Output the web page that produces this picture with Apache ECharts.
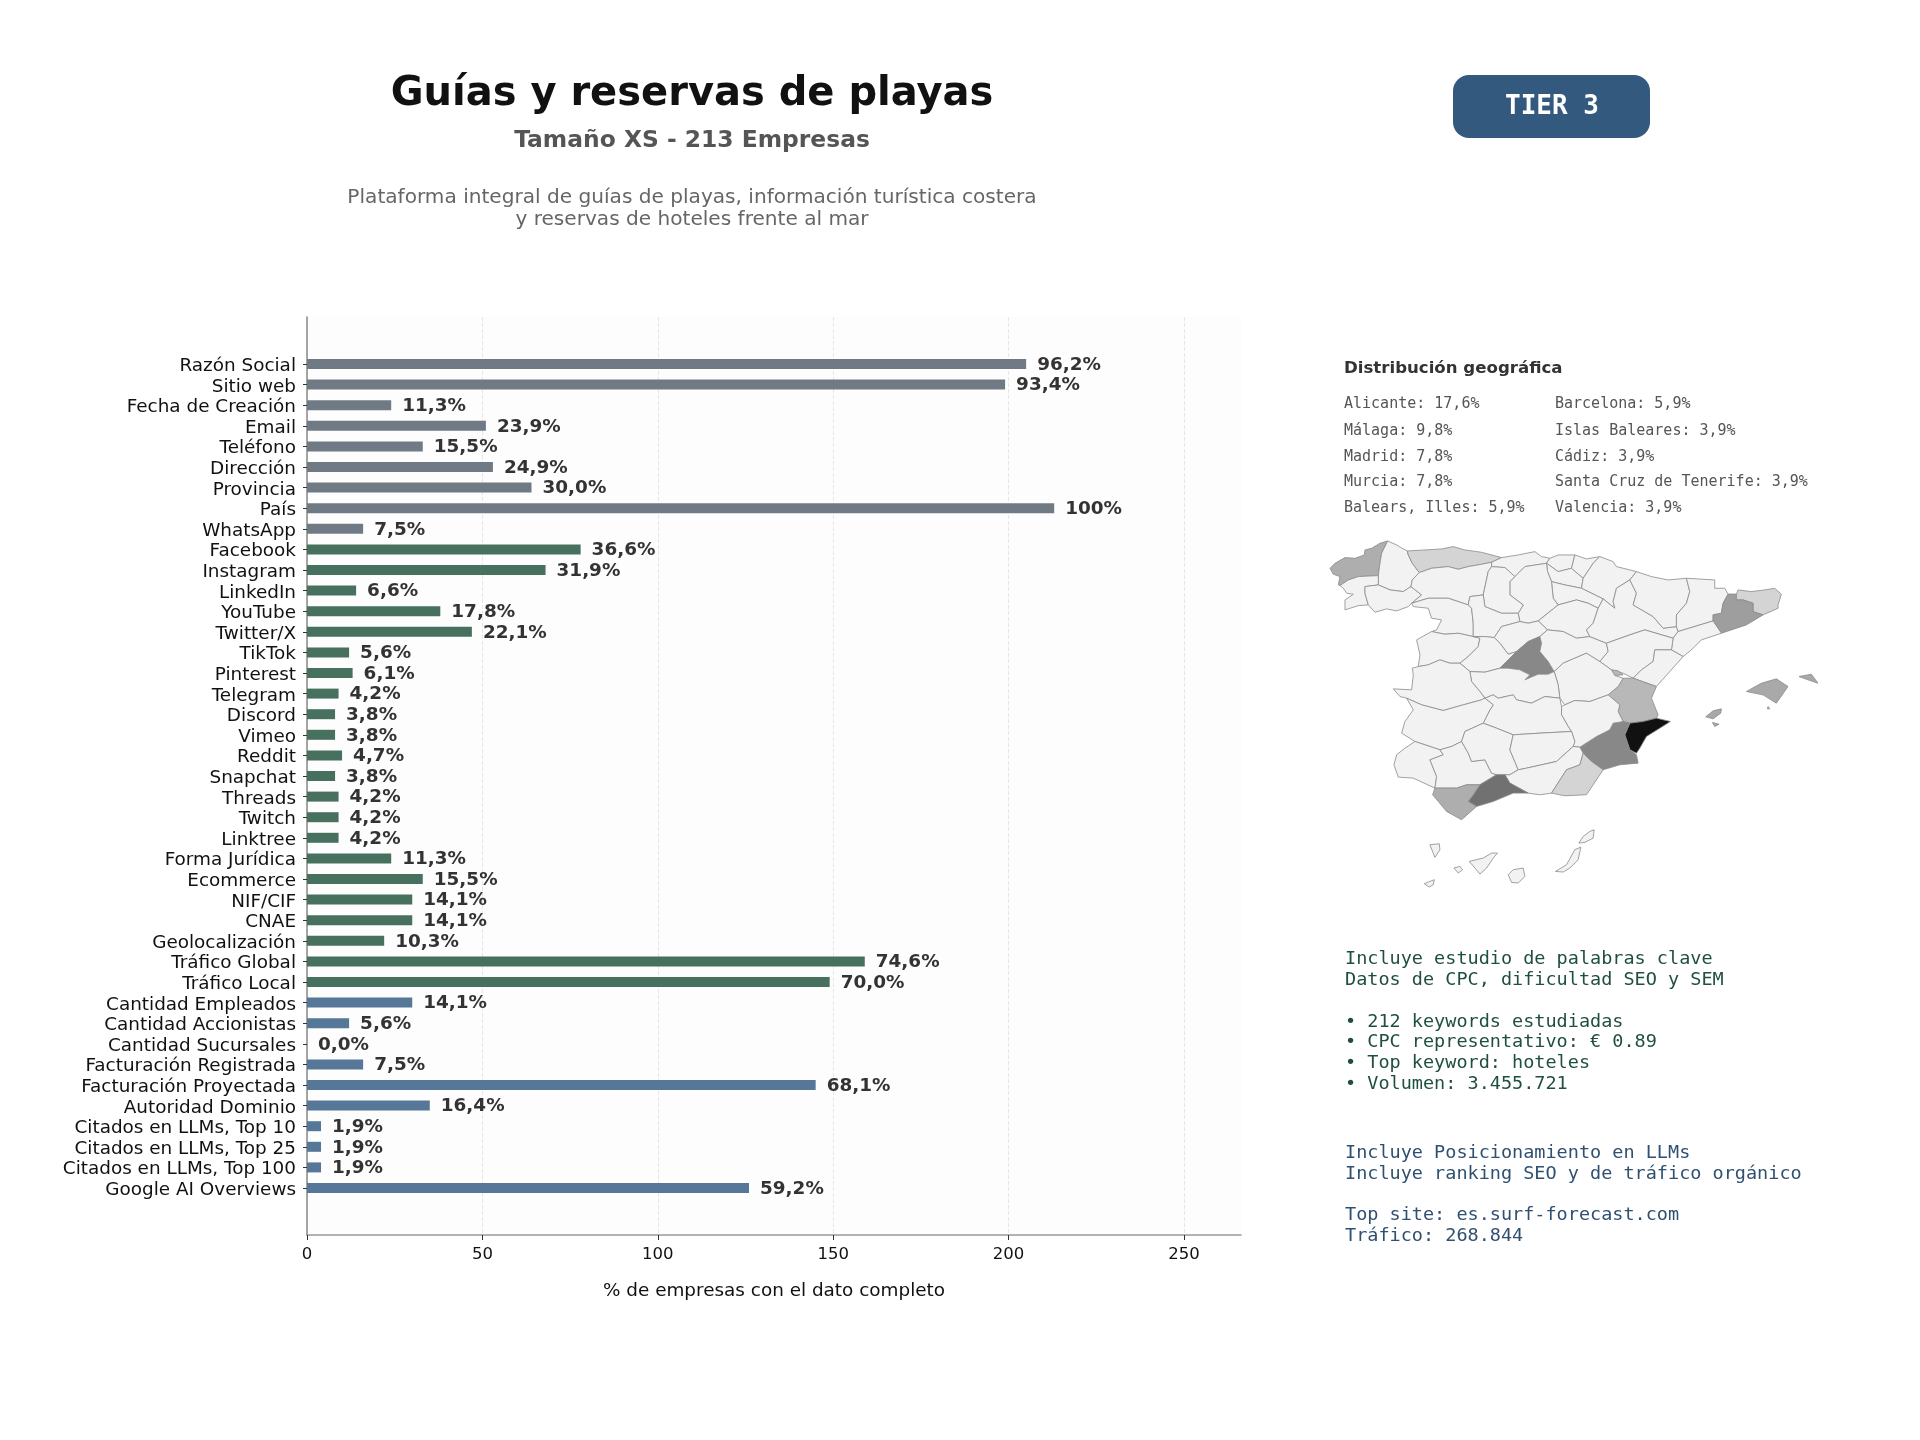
<!DOCTYPE html>
<html>
<head>
<meta charset="utf-8">
<script src="https://cdn.jsdelivr.net/npm/echarts@6/dist/echarts.min.js"></script>
<style>
	html, body { margin: 0; padding: 0; background: #fff; }
	#chart { width: 1920px; height: 1440px; }
</style>
</head>
<body>
<div id="chart"></div>
<script>
const categories = ['Razón Social', 'Sitio web', 'Fecha de Creación', 'Email', 'Teléfono', 'Dirección', 'Provincia', 'País', 'WhatsApp',
	'Facebook', 'Instagram', 'LinkedIn', 'YouTube', 'Twitter/X', 'TikTok', 'Pinterest', 'Telegram', 'Discord', 'Vimeo', 'Reddit', 'Snapchat', 'Threads', 'Twitch', 'Linktree',
	'Forma Jurídica', 'Ecommerce', 'NIF/CIF', 'CNAE', 'Geolocalización', 'Tráfico Global', 'Tráfico Local',
	'Cantidad Empleados', 'Cantidad Accionistas', 'Cantidad Sucursales', 'Facturación Registrada', 'Facturación Proyectada', 'Autoridad Dominio', 'Citados en LLMs, Top 10', 'Citados en LLMs, Top 25', 'Citados en LLMs, Top 100', 'Google AI Overviews']
const counts = [205, 199, 24, 51, 33, 53, 64, 213, 16,
	78, 68, 14, 38, 47, 12, 13, 9, 8, 8, 10, 8, 9, 9, 9,
	24, 33, 30, 30, 22, 159, 149,
	30, 12, 0, 16, 145, 35, 4, 4, 4, 126]
const percents = ['96,2%', '93,4%', '11,3%', '23,9%', '15,5%', '24,9%', '30,0%', '100%', '7,5%',
	'36,6%', '31,9%', '6,6%', '17,8%', '22,1%', '5,6%', '6,1%', '4,2%', '3,8%', '3,8%', '4,7%', '3,8%', '4,2%', '4,2%', '4,2%',
	'11,3%', '15,5%', '14,1%', '14,1%', '10,3%', '74,6%', '70,0%',
	'14,1%', '5,6%', '0,0%', '7,5%', '68,1%', '16,4%', '1,9%', '1,9%', '1,9%', '59,2%']
const xTicks = [0, 50, 100, 150, 200, 250]
const geoCol1 = ['Alicante: 17,6%', 'Málaga: 9,8%', 'Madrid: 7,8%', 'Murcia: 7,8%', 'Balears, Illes: 5,9%']
const geoCol2 = ['Barcelona: 5,9%', 'Islas Baleares: 3,9%', 'Cádiz: 3,9%', 'Santa Cruz de Tenerife: 3,9%', 'Valencia: 3,9%']
const keywordLines = ['Incluye estudio de palabras clave', 'Datos de CPC, dificultad SEO y SEM', '', '• 212 keywords estudiadas', '• CPC representativo: € 0.89', '• Top keyword: hoteles', '• Volumen: 3.455.721']
const rankingLines = ['Incluye Posicionamiento en LLMs', 'Incluye ranking SEO y de tráfico orgánico', '', 'Top site: es.surf-forecast.com', 'Tráfico: 268.844']

// shading of the provinces that stand out on the map, the rest is 0
const provinceValues = { Alicante: 17.6, Malaga: 9.8, Madrid: 7.8, Murcia: 7.8, Barcelona: 5.9, Baleares: 5, Cadiz: 4.6, Valencia: 3.9, Coruna: 4.6, Asturias: 2, Almeria: 2, Girona: 2 }

// province outlines, traced by hand
const provinces = {
	Coruna: [[[188, 18], [165, 25], [140, 40], [120, 45], [118, 60], [90, 70], [60, 68], [30, 85], [15, 100], [25, 118], [45, 125], [40, 150], [45, 152], [70, 135], [100, 125], [160, 122], [165, 85], [170, 55]]],
	Lugo: [[[188, 18], [215, 30], [235, 42], [247, 48], [250, 60], [262, 85], [283, 113], [262, 135], [258, 155], [235, 170], [195, 165], [160, 150], [160, 122], [165, 85], [170, 55]]],
	Pontevedra: [[[45, 152], [55, 160], [65, 175], [85, 178], [60, 195], [60, 225], [100, 212], [130, 210], [120, 175], [120, 155], [160, 150], [160, 122], [100, 125], [70, 135]]],
	Ourense: [[[120, 155], [160, 150], [195, 165], [235, 170], [258, 155], [290, 180], [260, 205], [250, 215], [215, 228], [185, 222], [150, 232], [130, 210], [120, 175]]],
	Asturias: [[[247, 48], [300, 45], [350, 42], [385, 35], [420, 45], [470, 52], [530, 68], [500, 82], [470, 88], [430, 95], [400, 103], [370, 95], [320, 100], [283, 113], [262, 85], [250, 60]]],
	Cantabria: [[[530, 68], [580, 60], [630, 50], [650, 65], [675, 70], [665, 85], [600, 95], [570, 125], [540, 98], [500, 95], [500, 82]]],
	Bizkaia: [[[675, 70], [700, 60], [750, 60], [740, 100], [700, 110], [665, 85]]],
	Gipuzkoa: [[[750, 60], [785, 72], [825, 65], [805, 85], [775, 130], [745, 105], [740, 100]]],
	Alava: [[[665, 85], [700, 110], [740, 100], [745, 105], [775, 130], [770, 160], [720, 150], [680, 140], [668, 110]]],
	Navarra: [[[825, 65], [865, 80], [875, 95], [935, 110], [915, 135], [875, 160], [865, 200], [870, 220], [835, 192], [780, 165], [770, 160], [775, 130], [805, 85]]],
	Rioja: [[[680, 140], [720, 150], [770, 160], [780, 165], [835, 192], [820, 220], [790, 205], [755, 195], [700, 210], [685, 190]]],
	Burgos: [[[600, 95], [665, 85], [668, 110], [680, 140], [685, 190], [700, 210], [650, 250], [640, 258], [610, 265], [585, 260], [580, 235], [595, 210], [555, 180], [555, 140], [570, 125]]],
	Leon: [[[283, 113], [320, 100], [370, 95], [400, 103], [430, 95], [470, 88], [500, 82], [500, 95], [490, 110], [475, 180], [435, 185], [430, 210], [370, 190], [310, 190], [260, 205], [290, 180], [258, 155], [262, 135]]],
	Palencia: [[[500, 95], [540, 98], [570, 125], [555, 140], [555, 180], [595, 210], [580, 235], [530, 235], [480, 215], [475, 180], [490, 110]]],
	Zamora: [[[260, 205], [310, 190], [370, 190], [430, 210], [440, 220], [445, 265], [445, 305], [400, 295], [360, 298], [320, 290], [335, 285], [350, 255], [320, 250], [310, 220], [265, 215]]],
	Valladolid: [[[430, 210], [435, 185], [475, 180], [480, 215], [530, 235], [580, 235], [585, 260], [530, 275], [508, 308], [480, 305], [445, 305], [445, 265], [440, 220]]],
	Soria: [[[650, 250], [700, 210], [755, 195], [790, 205], [820, 220], [805, 265], [785, 285], [795, 305], [755, 310], [715, 290], [668, 285], [640, 258]]],
	Segovia: [[[508, 308], [530, 275], [585, 260], [610, 265], [640, 258], [668, 285], [645, 305], [610, 320], [575, 350], [550, 358], [525, 325]]],
	Salamanca: [[[320, 290], [360, 298], [400, 295], [445, 305], [465, 310], [460, 335], [430, 365], [405, 385], [375, 385], [345, 375], [310, 390], [280, 395], [285, 360], [275, 315]]],
	Avila: [[[445, 305], [480, 305], [508, 308], [525, 325], [550, 358], [575, 350], [550, 375], [525, 400], [480, 412], [435, 410], [405, 385], [430, 365], [460, 335], [465, 310]]],
	Madrid: [[[645, 305], [650, 325], [645, 350], [670, 380], [688, 410], [670, 418], [640, 418], [600, 435], [615, 420], [585, 405], [550, 400], [525, 400], [550, 375], [575, 350], [610, 320]]],
	Guadalajara: [[[668, 285], [715, 290], [755, 310], [795, 305], [845, 325], [850, 350], [825, 380], [785, 355], [745, 372], [715, 385], [688, 410], [670, 380], [645, 350], [650, 325], [645, 305]]],
	Zaragoza: [[[915, 135], [935, 175], [925, 210], [985, 245], [1015, 280], [1055, 275], [1060, 290], [1045, 310], [960, 285], [915, 300], [845, 325], [795, 305], [785, 285], [805, 265], [820, 220], [835, 192], [870, 220], [865, 200], [875, 160]]],
	Huesca: [[[935, 110], [980, 125], [1030, 135], [1085, 130], [1095, 170], [1085, 205], [1055, 240], [1055, 275], [1015, 280], [985, 245], [925, 210], [935, 175], [915, 135]]],
	Lleida: [[[1085, 130], [1170, 135], [1170, 160], [1200, 160], [1210, 178], [1195, 205], [1190, 235], [1165, 240], [1165, 258], [1060, 290], [1055, 275], [1055, 240], [1085, 205], [1095, 170]]],
	Girona: [[[1210, 178], [1235, 178], [1240, 165], [1280, 170], [1320, 165], [1350, 160], [1370, 178], [1360, 210], [1360, 220], [1315, 240], [1285, 230], [1285, 205], [1255, 195], [1235, 195]]],
	Barcelona: [[[1210, 178], [1235, 178], [1235, 195], [1255, 195], [1285, 205], [1285, 230], [1315, 240], [1265, 270], [1190, 295], [1165, 258], [1165, 240], [1190, 235], [1195, 205]]],
	Tarragona: [[[1060, 290], [1165, 258], [1190, 295], [1130, 315], [1100, 345], [1075, 365], [1040, 345], [1045, 310]]],
	Teruel: [[[845, 325], [915, 300], [960, 285], [1045, 310], [1040, 345], [990, 345], [985, 380], [950, 405], [925, 430], [895, 415], [860, 405], [825, 380], [850, 350]]],
	Castellon: [[[1040, 345], [1075, 365], [995, 455], [925, 430], [950, 405], [985, 380], [990, 345]]],
	Valencia: [[[895, 430], [925, 430], [995, 455], [980, 490], [1000, 540], [995, 550], [955, 560], [915, 565], [895, 560], [880, 530], [885, 510], [850, 480], [880, 455]], [[860, 405], [880, 408], [895, 420], [870, 422]]],
	Alicante: [[[915, 565], [955, 560], [995, 550], [1037, 560], [1005, 580], [965, 605], [945, 640], [935, 655], [915, 645], [900, 600]]],
	Murcia: [[[765, 637], [815, 605], [855, 585], [865, 565], [895, 560], [915, 565], [900, 600], [915, 645], [935, 660], [940, 685], [885, 690], [835, 705], [800, 680], [775, 655]]],
	Cuenca: [[[688, 410], [715, 385], [745, 372], [785, 355], [825, 380], [860, 405], [870, 422], [895, 430], [880, 455], [850, 480], [795, 500], [750, 497], [720, 510], [705, 490], [700, 450]]],
	Albacete: [[[720, 510], [750, 497], [795, 500], [850, 480], [885, 510], [880, 530], [895, 560], [865, 565], [855, 585], [815, 605], [765, 637], [745, 635], [750, 620], [740, 590], [730, 575], [710, 540], [710, 515]]],
	Toledo: [[[435, 410], [480, 412], [525, 400], [550, 400], [585, 405], [615, 420], [600, 435], [640, 418], [670, 418], [688, 410], [700, 450], [705, 490], [660, 485], [620, 505], [575, 495], [565, 480], [520, 490], [505, 480], [480, 490], [465, 470], [440, 440]]],
	CiudadReal: [[[480, 490], [505, 480], [520, 490], [565, 480], [575, 495], [620, 505], [660, 485], [705, 490], [710, 515], [710, 540], [730, 575], [740, 590], [645, 595], [565, 600], [515, 580], [475, 565], [495, 525], [505, 510]]],
	Caceres: [[[205, 462], [260, 465], [265, 420], [262, 400], [280, 395], [310, 390], [345, 375], [375, 385], [405, 385], [435, 410], [440, 440], [465, 470], [480, 490], [470, 495], [415, 510], [355, 527], [290, 510], [245, 490], [225, 485]]],
	Badajoz: [[[245, 490], [290, 510], [355, 527], [415, 510], [470, 495], [480, 490], [505, 510], [495, 525], [475, 565], [420, 590], [410, 620], [380, 635], [345, 645], [270, 620], [230, 595], [240, 560], [265, 525]]],
	Huelva: [[[270, 620], [240, 640], [215, 660], [207, 690], [220, 727], [265, 730], [330, 760], [335, 725], [315, 675], [355, 660], [345, 645]]],
	Sevilla: [[[345, 645], [380, 635], [410, 620], [430, 655], [440, 680], [480, 675], [500, 715], [515, 720], [465, 750], [425, 750], [395, 760], [330, 760], [335, 725], [315, 675], [355, 660]]],
	Cordoba: [[[410, 620], [420, 590], [475, 565], [515, 580], [565, 600], [555, 645], [580, 705], [555, 720], [515, 720], [500, 715], [480, 675], [440, 680], [430, 655]]],
	Jaen: [[[565, 600], [645, 595], [740, 590], [750, 620], [745, 635], [695, 680], [605, 700], [580, 705], [555, 645]]],
	Granada: [[[555, 720], [580, 705], [605, 700], [695, 680], [745, 635], [765, 637], [775, 655], [765, 690], [725, 705], [680, 775], [645, 780], [610, 775], [555, 745], [540, 720]]],
	Almeria: [[[775, 655], [800, 680], [835, 705], [785, 780], [720, 783], [680, 775], [725, 705], [765, 690]]],
	Malaga: [[[515, 720], [540, 720], [555, 745], [610, 775], [565, 775], [505, 800], [455, 815], [430, 800], [445, 780], [465, 750]]],
	Cadiz: [[[330, 760], [395, 760], [425, 750], [465, 750], [445, 780], [430, 800], [455, 815], [410, 855], [365, 830], [340, 800], [323, 780]]],
	Baleares: [[[1265, 470], [1310, 445], [1355, 432], [1390, 455], [1355, 505], [1315, 480]], [[1330, 515], [1335, 522], [1328, 522]], [[1423, 425], [1460, 418], [1480, 445], [1450, 435]], [[1143, 546], [1165, 528], [1190, 522], [1188, 535], [1165, 552]], [[1163, 563], [1183, 568], [1170, 575]]],
	Tenerife: [[[433, 980], [475, 970], [500, 955], [518, 955], [505, 970], [485, 1000], [465, 1018], [450, 1000]], [[387, 1000], [405, 995], [413, 1005], [400, 1015]], [[315, 930], [343, 927], [345, 945], [330, 968]], [[298, 1047], [315, 1040], [328, 1035], [325, 1050], [313, 1057]]],
	LasPalmas: [[[550, 1020], [565, 1005], [595, 1000], [600, 1025], [580, 1045], [560, 1043]], [[692, 1010], [725, 990], [750, 945], [768, 937], [760, 975], [735, 1000], [715, 1012]], [[762, 925], [775, 905], [795, 890], [808, 885], [805, 910], [780, 923]]]
}

const barColors = { gray: '#6f7a85', green: '#47705f', blue: '#567797' }
const barColor = i => (i < 9 ? barColors.gray : i < 31 ? barColors.green : barColors.blue)

const spain = {
	type: 'FeatureCollection',
	features: Object.keys(provinces).map(name => ({
		type: 'Feature',
		properties: { name },
		geometry: {
			type: 'MultiPolygon',
			coordinates: provinces[name].map(ring => [ring.concat([ring[0]]).map(p => [p[0], -p[1]])])
		}
	}))
}
echarts.registerMap('spain', spain)

const mono = '"DejaVu Sans Mono", monospace'
const sans = '"DejaVu Sans", sans-serif'

function textEl(x, y, text, fontSize, fill, font, weight, align) {
	return {
		type: 'text',
		x,
		y,
		silent: true,
		style: { text, fontSize, fill, fontFamily: font || sans, fontWeight: weight || 'normal', textAlign: align || 'left', textVerticalAlign: 'middle' }
	}
}

const graphics = [
	textEl(692, 95, 'Guías y reservas de playas', 40, '#111111', sans, 'bold', 'center'),
	textEl(692, 141, 'Tamaño XS - 213 Empresas', 23.4, '#555555', sans, 'bold', 'center'),
	textEl(692, 198, 'Plataforma integral de guías de playas, información turística costera', 20.1, '#666666', sans, 'normal', 'center'),
	textEl(692, 220, 'y reservas de hoteles frente al mar', 20.1, '#666666', sans, 'normal', 'center'),
	{ type: 'rect', shape: { x: 1453, y: 75, width: 197, height: 63, r: 16 }, style: { fill: '#34597f' }, silent: true },
	textEl(1552, 107, 'TIER 3', 26, '#ffffff', mono, 'bold', 'center'),
	textEl(1344, 369, 'Distribución geográfica', 16.6, '#333333', sans, 'bold')
]
const geoRows = [404, 431, 457, 482, 508]
geoCol1.forEach((t, i) => graphics.push(textEl(1344, geoRows[i], t, 15, '#555555', mono)))
geoCol2.forEach((t, i) => graphics.push(textEl(1555, geoRows[i], t, 15, '#555555', mono)))
keywordLines.forEach((t, i) => graphics.push(textEl(1345, 959 + i * 20.9, t, 18.5, '#1f4f3f', mono)))
rankingLines.forEach((t, i) => graphics.push(textEl(1345, 1153 + i * 20.8, t, 18.5, '#2f5070', mono)))

const chart = echarts.init(document.getElementById('chart'))
chart.setOption({
	backgroundColor: '#ffffff',
	animation: false,
	textStyle: { fontFamily: sans },
	grid: [
		{ left: 307, top: 317, width: 934, height: 918, show: true, backgroundColor: '#fdfdfd', borderWidth: 0 },
		{ left: 307, top: 353.7, width: 934, height: 844.6 },
		// category names sit a little lower than the bars
		{ left: 307, top: 356, width: 934, height: 844.6 }
	],
	xAxis: [
		{
			gridIndex: 0,
			type: 'value',
			min: 0,
			max: 266.25,
			axisLine: { show: true, lineStyle: { color: '#999999', width: 1.5 } },
			axisTick: { show: true, length: 5, lineStyle: { color: '#333333' }, customValues: xTicks },
			axisLabel: { fontSize: 16.5, color: '#111111', margin: 11, customValues: xTicks, formatter: v => String(v) },
			splitLine: { show: true, lineStyle: { color: '#e6e6e6', type: 'dashed', width: 1 } },
			name: '% de empresas con el dato completo',
			nameLocation: 'middle',
			nameGap: 47,
			nameTextStyle: { fontSize: 18.4, color: '#111111' }
		},
		{ gridIndex: 1, type: 'value', min: 0, max: 266.25, show: false },
		{ gridIndex: 2, type: 'value', min: 0, max: 266.25, show: false }
	],
	yAxis: [
		{
			gridIndex: 0,
			type: 'value',
			min: 0,
			max: 1,
			axisLine: { show: true, onZero: false, lineStyle: { color: '#888888', width: 1.5 } },
			axisTick: { show: false },
			axisLabel: { show: false },
			splitLine: { show: false }
		},
		{
			gridIndex: 1,
			type: 'category',
			inverse: true,
			data: categories,
			axisLine: { show: false },
			axisTick: { show: true, length: 4, alignWithLabel: true, lineStyle: { color: '#333333' } },
			axisLabel: { show: false }
		},
		{
			gridIndex: 2,
			type: 'category',
			inverse: true,
			data: categories,
			axisLine: { show: false },
			axisTick: { show: false },
			axisLabel: { fontSize: 18.4, color: '#111111', margin: 11, interval: 0 }
		}
	],
	visualMap: {
		show: false,
		type: 'continuous',
		seriesIndex: 1,
		min: 0,
		max: 17.6,
		inRange: { color: ['#f2f2f2', '#b0b0b0', '#7c7c7c', '#4a4a4a', '#111111'] }
	},
	series: [
		{
			type: 'bar',
			xAxisIndex: 1,
			yAxisIndex: 1,
			barWidth: 10,
			data: counts.map((v, i) => ({ value: v, itemStyle: { color: barColor(i) } })),
			label: {
				show: true,
				position: 'right',
				distance: 11,
				offset: [0, 1],
				fontSize: 18.4,
				fontWeight: 'bold',
				color: '#333333',
				formatter: p => percents[p.dataIndex]
			},
			silent: true
		},
		{
			type: 'map',
			map: 'spain',
			layoutCenter: [1574, 714],
			layoutSize: 488,
			aspectScale: 1,
			roam: false,
			silent: true,
			label: { show: false },
			itemStyle: { borderColor: '#8a8a8a', borderWidth: 0.8, areaColor: '#f2f2f2' },
			data: Object.keys(provinces).map(name => ({ name, value: provinceValues[name] || 0 }))
		}
	],
	graphic: graphics
})
</script>
</body>
</html>
